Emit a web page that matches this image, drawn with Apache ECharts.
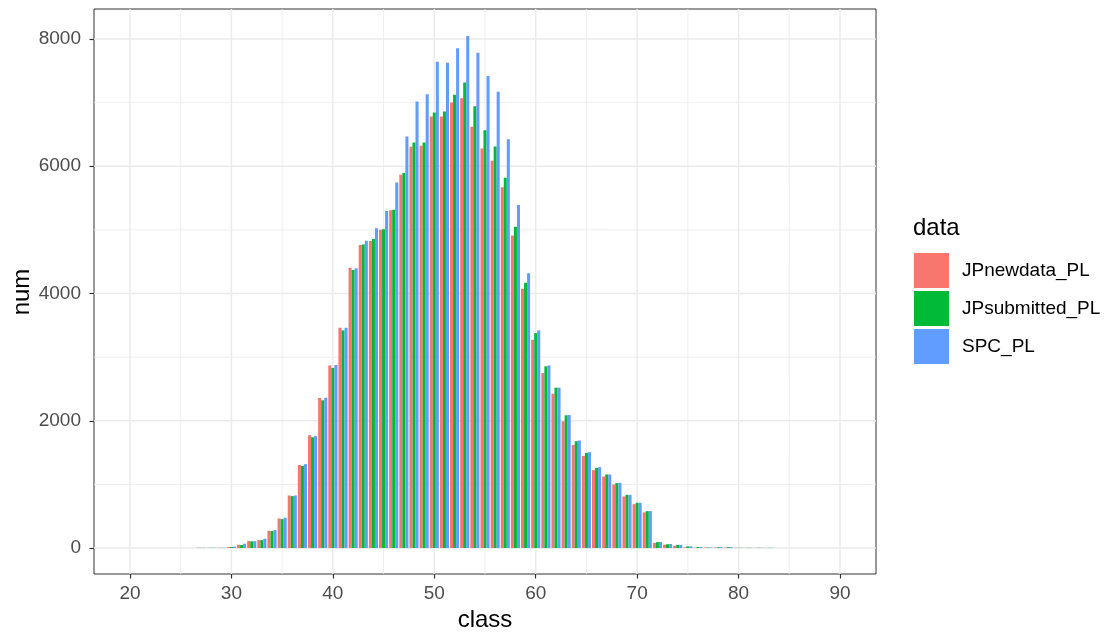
<!DOCTYPE html>
<html>
<head>
<meta charset="utf-8">
<script src="https://cdn.jsdelivr.net/npm/echarts@6/dist/echarts.min.js"></script>
<style>
html,body{margin:0;padding:0;background:#fff;}
#chart{width:1116px;height:634px;}
</style>
</head>
<body>
<div id="chart"></div>
<script>
var classes = [27,28,29,30,31,32,33,34,35,36,37,38,39,40,41,42,43,44,45,46,47,48,49,50,51,52,53,54,55,56,57,58,59,60,61,62,63,64,65,66,67,68,69,70,71,72,73,74,75,76,77,78,79,80,81,82,83];
var JPnewdata_PL = [5,5,5,16,52,110,125,272,465,826,1305,1772,2358,2870,3462,4403,4763,4826,5000,5307,5865,6306,6322,6782,6782,7002,7069,6620,6280,6086,5668,4910,4073,3273,2750,2426,1992,1621,1448,1224,1124,999,811,690,560,82,52,37,10,5,8,8,8,4,4,4,3];
var JPsubmitted_PL = [4,5,5,16,47,105,125,267,455,816,1291,1741,2322,2829,3420,4371,4770,4857,5010,5318,5895,6374,6374,6845,6860,7122,7315,6944,6567,6311,5820,5051,4170,3378,2855,2520,2086,1678,1495,1260,1156,1020,836,711,580,92,60,50,26,16,8,14,14,5,5,5,4];
var SPC_PL = [6,6,6,21,68,108,146,282,476,826,1318,1762,2363,2876,3462,4397,4831,5025,5297,5746,6468,7017,7132,7643,7628,7853,8047,7785,7420,7169,6426,5391,4320,3420,2870,2520,2090,1689,1506,1271,1156,1025,836,711,580,94,63,50,26,16,8,14,14,5,5,5,4];
var seriesNames = ['JPnewdata_PL','JPsubmitted_PL','SPC_PL'];
var xTicks = [20,30,40,50,60,70,80,90];
var xMinor = [25,35,45,55,65,75,85];
var yTicks = [0,2000,4000,6000,8000];
var yMinor = [1000,3000,5000,7000];

var colors = ['#F8766D','#00BA38','#619CFF'];
var chart = echarts.init(document.getElementById('chart'), null, {renderer:'canvas'});

function pairs(vals){ return classes.map(function(c,i){ return [c, vals[i]]; }); }
function barRender(offset, color){
  return function(params, api){
    var x = api.value(0), y = api.value(1);
    var p1 = api.coord([x + offset - 0.15, y]);
    var p0 = api.coord([x + offset + 0.15, 0]);
    return {type:'rect', shape:{x:p1[0], y:p1[1], width:p0[0]-p1[0], height:p0[1]-p1[1]}, style:{fill:color}};
  };
}
function gridRender(params, api){
  var cs = params.coordSys;
  var children = [];
  function vline(v, w){ var p = api.coord([v, 0]); children.push({type:'line', shape:{x1:p[0],y1:cs.y,x2:p[0],y2:cs.y+cs.height}, style:{stroke:'#EBEBEB', lineWidth:w}}); }
  function hline(v, w){ var p = api.coord([20, v]); children.push({type:'line', shape:{x1:cs.x,y1:p[1],x2:cs.x+cs.width,y2:p[1]}, style:{stroke:'#EBEBEB', lineWidth:w}}); }
  xMinor.forEach(function(v){ vline(v, 0.8); });
  yMinor.forEach(function(v){ hline(v, 0.8); });
  xTicks.forEach(function(v){ vline(v, 1.5); });
  yTicks.forEach(function(v){ hline(v, 1.5); });
  return {type:'group', children:children};
}

var offsets = [-0.3, 0, 0.3];
var dataSets = [JPnewdata_PL, JPsubmitted_PL, SPC_PL];
var series = [{
  name:'gridlines', type:'custom', renderItem:gridRender, data:[[20,0]], silent:true, z:0, animation:false
}];
seriesNames.forEach(function(n, i){
  series.push({name:n, type:'custom', renderItem:barRender(offsets[i], colors[i]), data:pairs(dataSets[i]),
    itemStyle:{color:colors[i]}, z:2, animation:false, encode:{x:0,y:1}});
});

var tickLabelStyle = {color:'#4D4D4D', fontSize:19, fontFamily:'Liberation Sans, Arial, sans-serif', formatter:function(v){ return String(v); }};
chart.setOption({
  animation:false,
  color:colors,
  grid:{left:94, right:240, top:9, bottom:60, show:true, borderColor:'#333333', borderWidth:1, backgroundColor:'transparent', containLabel:false, outerBoundsMode:'none'},
  xAxis:{type:'value', min:16.45, max:93.55,
    axisLine:{show:false, onZero:false},
    axisTick:{show:true, length:4.5, lineStyle:{color:'#333333', width:1.2}, customValues:xTicks},
    axisLabel:Object.assign({margin:10, customValues:xTicks}, tickLabelStyle),
    splitLine:{show:false}},
  yAxis:{type:'value', min:-408, max:8471,
    axisLine:{show:false, onZero:false},
    axisTick:{show:true, length:4.5, lineStyle:{color:'#333333', width:1.2}, customValues:yTicks},
    axisLabel:Object.assign({margin:13, customValues:yTicks}, tickLabelStyle),
    splitLine:{show:false}},
  legend:{data:seriesNames, orient:'vertical', left:914, top:253, padding:0, icon:'rect', itemWidth:35, itemHeight:35, itemGap:3,
    textStyle:{fontSize:19, color:'#000', fontFamily:'Liberation Sans, Arial, sans-serif', padding:[0,0,0,8]}},
  graphic:[
    {type:'text', left:913, top:216, style:{text:'data', fontSize:24, fill:'#000', fontFamily:'Liberation Sans, Arial, sans-serif'}},
    {type:'text', x:485, y:620, style:{text:'class', fontSize:24, fill:'#000', align:'center', verticalAlign:'middle', fontFamily:'Liberation Sans, Arial, sans-serif'}},
    {type:'text', x:22, y:292, rotation:Math.PI/2, style:{text:'num', fontSize:24, fill:'#000', align:'center', verticalAlign:'middle', fontFamily:'Liberation Sans, Arial, sans-serif'}}
  ],
  series:series
});
</script>
</body>
</html>
